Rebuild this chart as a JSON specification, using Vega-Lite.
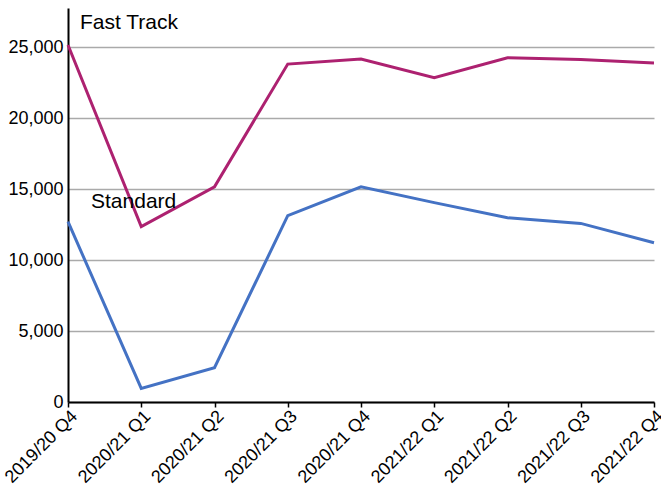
{
  "$schema": "https://vega.github.io/schema/vega-lite/v6.json",
  "width": 586,
  "height": 394,
  "autosize": {"type": "none"},
  "padding": {"left": 68, "top": 8, "right": 7, "bottom": 85},
  "background": "white",
  "config": {
    "font": "Liberation Sans",
    "view": {"stroke": null},
    "axis": {"labelFont": "Liberation Sans", "labelFontSize": 18, "labelColor": "#000"}
  },
  "datasets": {
    "series": [
      {"quarter": "2019/20 Q4", "type": "Fast Track", "value": 25140},
      {"quarter": "2020/21 Q1", "type": "Fast Track", "value": 12350},
      {"quarter": "2020/21 Q2", "type": "Fast Track", "value": 15160},
      {"quarter": "2020/21 Q3", "type": "Fast Track", "value": 23800},
      {"quarter": "2020/21 Q4", "type": "Fast Track", "value": 24155},
      {"quarter": "2021/22 Q1", "type": "Fast Track", "value": 22840},
      {"quarter": "2021/22 Q2", "type": "Fast Track", "value": 24250},
      {"quarter": "2021/22 Q3", "type": "Fast Track", "value": 24130},
      {"quarter": "2021/22 Q4", "type": "Fast Track", "value": 23870},
      {"quarter": "2019/20 Q4", "type": "Standard", "value": 12700},
      {"quarter": "2020/21 Q1", "type": "Standard", "value": 960},
      {"quarter": "2020/21 Q2", "type": "Standard", "value": 2420},
      {"quarter": "2020/21 Q3", "type": "Standard", "value": 13120},
      {"quarter": "2020/21 Q4", "type": "Standard", "value": 15160},
      {"quarter": "2021/22 Q1", "type": "Standard", "value": 14040},
      {"quarter": "2021/22 Q2", "type": "Standard", "value": 12980},
      {"quarter": "2021/22 Q3", "type": "Standard", "value": 12580},
      {"quarter": "2021/22 Q4", "type": "Standard", "value": 11220}
    ],
    "labels": [
      {"quarter": "2019/20 Q4", "type": "Fast Track", "value": 26250, "label": "Fast Track"},
      {"quarter": "2019/20 Q4", "type": "Standard", "value": 13650, "label": "Standard"}
    ]
  },
  "layer": [
    {
      "data": {"name": "series"},
      "mark": {"type": "line", "strokeWidth": 3, "strokeJoin": "miter"},
      "encoding": {
        "x": {
          "field": "quarter", "type": "ordinal",
          "scale": {"type": "point", "padding": 0},
          "axis": {
            "title": null, "labelAngle": -45, "domainColor": "#000", "domainWidth": 2,
            "tickColor": "#000", "tickWidth": 1.5, "tickSize": 5, "grid": false, "labelPadding": 0
          }
        },
        "y": {
          "field": "value", "type": "quantitative",
          "scale": {"domain": [0, 27750], "nice": false},
          "axis": {
            "title": null, "values": [0, 5000, 10000, 15000, 20000, 25000], "format": ",.0f",
            "domainColor": "#000", "domainWidth": 2, "ticks": false, "labelPadding": 5,
            "grid": true, "gridColor": "#aaaaaa", "gridWidth": 1.5
          }
        },
        "color": {
          "field": "type", "type": "nominal",
          "scale": {"domain": ["Fast Track", "Standard"], "range": ["#ad2170", "#4472c4"]},
          "legend": null
        }
      }
    },
    {
      "data": {"name": "labels"},
      "transform": [{"filter": "datum.type === 'Fast Track'"}],
      "mark": {"type": "text", "align": "left", "baseline": "alphabetic", "fontSize": 21, "font": "Liberation Sans", "color": "#000", "dx": 12},
      "encoding": {
        "x": {"field": "quarter", "type": "ordinal", "scale": {"type": "point", "padding": 0}},
        "y": {"field": "value", "type": "quantitative"},
        "text": {"field": "label"}
      }
    },
    {
      "data": {"name": "labels"},
      "transform": [{"filter": "datum.type === 'Standard'"}],
      "mark": {"type": "text", "align": "left", "baseline": "alphabetic", "fontSize": 21, "font": "Liberation Sans", "color": "#000", "dx": 23},
      "encoding": {
        "x": {"field": "quarter", "type": "ordinal", "scale": {"type": "point", "padding": 0}},
        "y": {"field": "value", "type": "quantitative"},
        "text": {"field": "label"}
      }
    }
  ]
}
